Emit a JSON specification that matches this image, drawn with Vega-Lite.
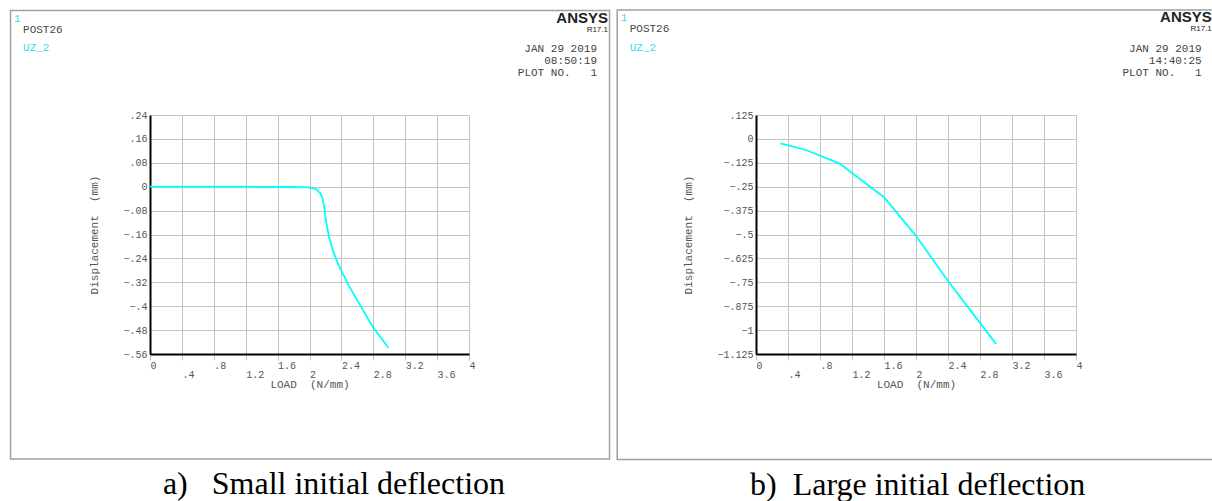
{
  "$schema": "https://vega.github.io/schema/vega-lite/v6.json",
  "padding": {"left": 9, "top": 9, "right": 0, "bottom": 0},
  "spacing": 5,
  "background": "white",
  "config": {
    "view": {"stroke": null},
    "axis": {
      "labelFont": "Liberation Mono",
      "labelFontSize": 10,
      "labelColor": "#555555",
      "labelOverlap": false,
      "tickCount": 20,
      "titleFont": "Liberation Mono",
      "titleFontSize": 11,
      "titleFontWeight": "normal",
      "titleColor": "#555555",
      "gridColor": "#c4c4c4",
      "gridWidth": 1,
      "gridOpacity": 1,
      "domainColor": "#000000",
      "domainWidth": 2
    },
    "axisX": {
      "labelAlign": "left",
      "labelFlush": false,
      "labelAngle": 0,
      "tickColor": "#c0c0c0",
      "tickSize": 6,
      "labelPadding": {"condition": {"test": "round(datum.value / 0.4) % 2 == 1", "value": 9}, "value": 0},
      "labelExpr": "replace(format(datum.value, '.1~f'), '0.', '.')",
      "titlePadding": -1
    },
    "axisY": {
      "ticks": false,
      "labelPadding": 3,
      "labelExpr": "datum.value == 0 ? '0' : replace(format(datum.value, '.3~f'), '0.', '.')",
      "titlePadding": 23
    },
    "text": {"font": "Liberation Mono", "fontSize": 11, "color": "#444444"}
  },
  "hconcat": [
    {
      "width": 319,
      "height": 239,
      "layer": [
        {
          "data": {"values": [
            {"load": 0, "disp": 0}, {"load": 0.4, "disp": 0}, {"load": 0.8, "disp": 0},
            {"load": 1.2, "disp": 0}, {"load": 1.6, "disp": -0.001}, {"load": 1.77, "disp": -0.001},
            {"load": 2.0, "disp": -0.002}, {"load": 2.08, "disp": -0.008}, {"load": 2.136, "disp": -0.022},
            {"load": 2.165, "disp": -0.041}, {"load": 2.186, "disp": -0.069}, {"load": 2.206, "disp": -0.114},
            {"load": 2.247, "disp": -0.17}, {"load": 2.301, "disp": -0.22}, {"load": 2.351, "disp": -0.254},
            {"load": 2.4, "disp": -0.282}, {"load": 2.495, "disp": -0.332}, {"load": 2.64, "disp": -0.399},
            {"load": 2.8, "disp": -0.472}, {"load": 2.99, "disp": -0.539}
          ]},
          "mark": {"type": "line", "color": "#00ffff", "strokeWidth": 1.8},
          "encoding": {
            "x": {"field": "load", "type": "quantitative",
                  "scale": {"domain": [0, 4], "nice": false, "zero": false},
                  "axis": {"values": [0, 0.4, 0.8, 1.2, 1.6, 2, 2.4, 2.8, 3.2, 3.6, 4], "title": "LOAD\u00a0\u00a0(N/mm)"}},
            "y": {"field": "disp", "type": "quantitative",
                  "scale": {"domain": [-0.56, 0.24], "nice": false, "zero": false},
                  "axis": {"values": [0.24, 0.16, 0.08, 0, -0.08, -0.16, -0.24, -0.32, -0.4, -0.48, -0.56], "title": "Displacement\u00a0\u00a0(mm)"}}
          }
        },
        {
          "data": {"values": [{}]},
          "mark": {"type": "rect", "fill": "white", "fillOpacity": 0, "stroke": "#a0a0a0", "strokeWidth": 1.5},
          "encoding": {
            "x": {"datum": -1.749, "type": "quantitative"}, "x2": {"datum": 5.762},
            "y": {"datum": 0.5898, "type": "quantitative"}, "y2": {"datum": -0.9115}
          }
        },
        {
          "data": {"values": [{"t": "1"}]},
          "mark": {"type": "text", "align": "left", "baseline": "middle", "color": "#33e0e8"},
          "encoding": {"x": {"datum": -1.705, "type": "quantitative"}, "y": {"datum": 0.563, "type": "quantitative"}, "text": {"field": "t"}}
        },
        {
          "data": {"values": [{"t": "POST26"}]},
          "mark": {"type": "text", "align": "left", "baseline": "middle"},
          "encoding": {"x": {"datum": -1.592, "type": "quantitative"}, "y": {"datum": 0.5245, "type": "quantitative"}, "text": {"field": "t"}}
        },
        {
          "data": {"values": [{"t": "UZ_2"}]},
          "mark": {"type": "text", "align": "left", "baseline": "middle", "color": "#33e0e8"},
          "encoding": {"x": {"datum": -1.592, "type": "quantitative"}, "y": {"datum": 0.4626, "type": "quantitative"}, "text": {"field": "t"}}
        },
        {
          "data": {"values": [{"t": "ANSYS"}]},
          "mark": {"type": "text", "align": "right", "baseline": "alphabetic", "font": "Liberation Sans", "fontWeight": "bold", "fontSize": 15, "color": "#222222"},
          "encoding": {"x": {"datum": 5.743, "type": "quantitative"}, "y": {"datum": 0.548, "type": "quantitative"}, "text": {"field": "t"}}
        },
        {
          "data": {"values": [{"t": "R17.1"}]},
          "mark": {"type": "text", "align": "right", "baseline": "alphabetic", "font": "Liberation Sans", "fontSize": 8, "color": "#222222"},
          "encoding": {"x": {"datum": 5.743, "type": "quantitative"}, "y": {"datum": 0.519, "type": "quantitative"}, "text": {"field": "t"}}
        },
        {
          "data": {"values": [{"t": "JAN 29 2019\n08:50:19\nPLOT NO.\u00a0\u00a0\u00a01"}]},
          "mark": {"type": "text", "align": "right", "baseline": "top", "lineBreak": "\n", "lineHeight": 12},
          "encoding": {"x": {"datum": 5.605, "type": "quantitative"}, "y": {"datum": 0.481, "type": "quantitative"}, "text": {"field": "t"}}
        },
        {
          "data": {"values": [{"t": "a)\u00a0\u00a0\u00a0Small initial deflection"}]},
          "mark": {"type": "text", "align": "center", "baseline": "middle", "font": "Liberation Serif", "fontSize": 32, "color": "#000000"},
          "encoding": {"x": {"datum": 2.307, "type": "quantitative"}, "y": {"datum": -0.9952, "type": "quantitative"}, "text": {"field": "t"}}
        }
      ]
    },
    {
      "width": 320,
      "height": 239,
      "layer": [
        {
          "data": {"values": [
            {"load": 0.305, "disp": -0.023}, {"load": 0.625, "disp": -0.058}, {"load": 1.04, "disp": -0.128},
            {"load": 1.6, "disp": -0.305}, {"load": 2.0, "disp": -0.507}, {"load": 2.4, "disp": -0.743},
            {"load": 2.8, "disp": -0.962}, {"load": 3.0, "disp": -1.072}
          ]},
          "mark": {"type": "line", "color": "#00ffff", "strokeWidth": 1.8},
          "encoding": {
            "x": {"field": "load", "type": "quantitative",
                  "scale": {"domain": [0, 4], "nice": false, "zero": false},
                  "axis": {"values": [0, 0.4, 0.8, 1.2, 1.6, 2, 2.4, 2.8, 3.2, 3.6, 4], "title": "LOAD\u00a0\u00a0(N/mm)"}},
            "y": {"field": "disp", "type": "quantitative",
                  "scale": {"domain": [-1.125, 0.125], "nice": false, "zero": false},
                  "axis": {"values": [0.125, 0, -0.125, -0.25, -0.375, -0.5, -0.625, -0.75, -0.875, -1, -1.125], "title": "Displacement\u00a0\u00a0(mm)"}}
          }
        },
        {
          "data": {"values": [{}]},
          "mark": {"type": "rect", "fill": "white", "fillOpacity": 0, "stroke": "#a0a0a0", "strokeWidth": 1.5},
          "encoding": {
            "x": {"datum": -1.735, "type": "quantitative"}, "x2": {"datum": 5.77},
            "y": {"datum": 0.6746, "type": "quantitative"}, "y2": {"datum": -1.6773}
          }
        },
        {
          "data": {"values": [{"t": "1"}]},
          "mark": {"type": "text", "align": "left", "baseline": "middle", "color": "#33e0e8"},
          "encoding": {"x": {"datum": -1.691, "type": "quantitative"}, "y": {"datum": 0.6326, "type": "quantitative"}, "text": {"field": "t"}}
        },
        {
          "data": {"values": [{"t": "POST26"}]},
          "mark": {"type": "text", "align": "left", "baseline": "middle"},
          "encoding": {"x": {"datum": -1.579, "type": "quantitative"}, "y": {"datum": 0.5723, "type": "quantitative"}, "text": {"field": "t"}}
        },
        {
          "data": {"values": [{"t": "UZ_2"}]},
          "mark": {"type": "text", "align": "left", "baseline": "middle", "color": "#33e0e8"},
          "encoding": {"x": {"datum": -1.579, "type": "quantitative"}, "y": {"datum": 0.4753, "type": "quantitative"}, "text": {"field": "t"}}
        },
        {
          "data": {"values": [{"t": "ANSYS"}]},
          "mark": {"type": "text", "align": "right", "baseline": "alphabetic", "font": "Liberation Sans", "fontWeight": "bold", "fontSize": 15, "color": "#222222"},
          "encoding": {"x": {"datum": 5.697, "type": "quantitative"}, "y": {"datum": 0.609, "type": "quantitative"}, "text": {"field": "t"}}
        },
        {
          "data": {"values": [{"t": "R17.1"}]},
          "mark": {"type": "text", "align": "right", "baseline": "alphabetic", "font": "Liberation Sans", "fontSize": 8, "color": "#222222"},
          "encoding": {"x": {"datum": 5.697, "type": "quantitative"}, "y": {"datum": 0.564, "type": "quantitative"}, "text": {"field": "t"}}
        },
        {
          "data": {"values": [{"t": "JAN 29 2019\n14:40:25\nPLOT NO.\u00a0\u00a0\u00a01"}]},
          "mark": {"type": "text", "align": "right", "baseline": "top", "lineBreak": "\n", "lineHeight": 12},
          "encoding": {"x": {"datum": 5.571, "type": "quantitative"}, "y": {"datum": 0.5041, "type": "quantitative"}, "text": {"field": "t"}}
        },
        {
          "data": {"values": [{"t": "b)\u00a0\u00a0Large initial deflection"}]},
          "mark": {"type": "text", "align": "center", "baseline": "middle", "font": "Liberation Serif", "fontSize": 32, "color": "#000000"},
          "encoding": {"x": {"datum": 2.021, "type": "quantitative"}, "y": {"datum": -1.8084, "type": "quantitative"}, "text": {"field": "t"}}
        }
      ]
    }
  ]
}
